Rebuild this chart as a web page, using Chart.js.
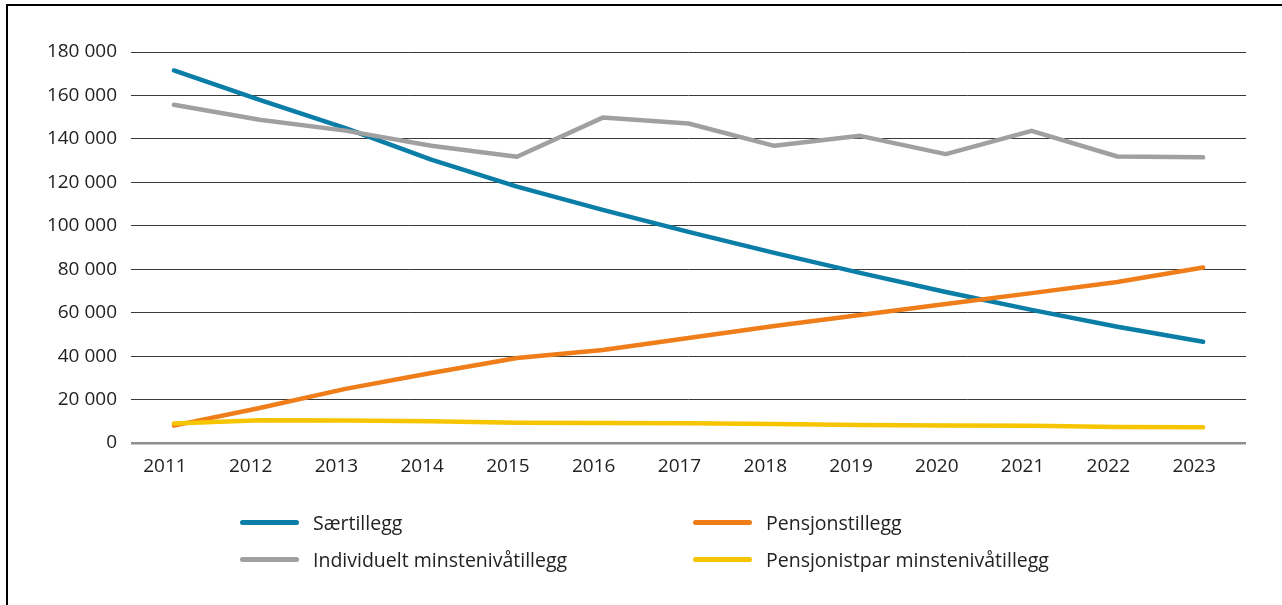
<!DOCTYPE html>
<html>
<head>
<meta charset="utf-8">
<script src="https://cdn.jsdelivr.net/npm/chart.js@4/dist/chart.umd.min.js"></script>
<style>
  body { margin: 0; background: #fff; }
  #wrap { position: relative; width: 1282px; height: 605px; overflow: hidden; }
  #frame { position: absolute; left: 6px; top: 4px; width: 1290px; height: 620px;
           border-left: 2px solid #000; border-top: 2px solid #000; }
  #chart { position: absolute; left: 0; top: 0; }
  #legend { position: absolute; left: 240px; top: 509px; display: grid;
            grid-template-columns: 453px 453px; row-gap: 10px;
            font-family: "Open Sans", sans-serif; font-size: 19.5px; color: #222; }
  .item { display: flex; align-items: center; height: 27px; }
  .swatch { width: 59px; height: 5px; border-radius: 3px; margin-right: 14px; }
</style>
</head>
<body>
<div id="wrap">
  <canvas id="chart" width="1282" height="605"></canvas>
  <div id="frame"></div>
  <div id="legend"></div>
</div>
<script>
const years = ["2011", "2012", "2013", "2014", "2015", "2016", "2017", "2018", "2019", "2020", "2021", "2022", "2023"];
const saertillegg = [171500, 158000, 145000, 130500, 118000, 107300, 97200, 87500, 78300, 69500, 61300, 53500, 46600];
const pensjonstillegg = [8000, 16100, 24900, 32200, 39100, 42800, 48300, 53900, 58900, 64000, 69000, 74100, 80800];
const individuelt = [155700, 148800, 143800, 136800, 131800, 149800, 147100, 136800, 141400, 133000, 143700, 131900, 131500];
const pensjonistpar = [9000, 10500, 10400, 10000, 9300, 9200, 9100, 8700, 8300, 8100, 7900, 7400, 7300];

const fontFamily = "'Open Sans', sans-serif";

function line(label, data, color) {
  return {
    label: label,
    data: data,
    borderColor: color,
    backgroundColor: color,
    borderWidth: 4.5,
    borderCapStyle: "round",
    borderJoinStyle: "round",
    pointRadius: 0,
    fill: false,
    tension: 0,
  };
}

const chart = new Chart(document.getElementById("chart"), {
  type: "line",
  data: {
    labels: years,
    datasets: [
      line("Pensjonistpar minstenivåtillegg", pensjonistpar, "#f7c500"),
      line("Pensjonstillegg", pensjonstillegg, "#ef7d1a"),
      line("Individuelt minstenivåtillegg", individuelt, "#a0a0a0"),
      line("Særtillegg", saertillegg, "#0a7ea6"),
    ],
  },
  options: {
    responsive: false,
    animation: false,
    layout: { padding: { top: 52, left: 0, right: 36, bottom: 122 } },
    plugins: {
      legend: { display: false },
      tooltip: { enabled: false },
    },
    scales: {
      x: {
        offset: true,
        grid: { display: false, drawTicks: false },
        border: { display: false },
        ticks: { color: "#222", padding: 12, labelOffset: -9, font: { family: fontFamily, size: 19 }, maxRotation: 0 },
        afterFit: (scale) => { scale.height = 40; },
      },
      y: {
        min: 0,
        max: 180000,
        grid: {
          drawTicks: false,
          color: (ctx) => (ctx.tick && ctx.tick.value === 0 ? "#8e8e8e" : "#3a3a3a"),
          lineWidth: (ctx) => (ctx.tick && ctx.tick.value === 0 ? 2.5 : 1),
        },
        border: { display: false },
        ticks: {
          stepSize: 20000,
          color: "#222",
          padding: 14,
          font: { family: fontFamily, size: 19 },
          callback: (v) => (v === 0 ? "0" : String(v).replace(/\B(?=(\d{3})+(?!\d))/g, " ")),
        },
        afterFit: (scale) => { scale.width = 131; },
      },
    },
  },
});

// legend in two columns, same order as the original
const legendOrder = ["Særtillegg", "Pensjonstillegg", "Individuelt minstenivåtillegg", "Pensjonistpar minstenivåtillegg"];
const legendDiv = document.getElementById("legend");
legendOrder.forEach((name) => {
  const ds = chart.data.datasets.find((d) => d.label === name);
  const item = document.createElement("div");
  item.className = "item";
  const sw = document.createElement("span");
  sw.className = "swatch";
  sw.style.background = ds.borderColor;
  const txt = document.createElement("span");
  txt.textContent = ds.label;
  item.appendChild(sw);
  item.appendChild(txt);
  legendDiv.appendChild(item);
});
</script>
</body>
</html>
